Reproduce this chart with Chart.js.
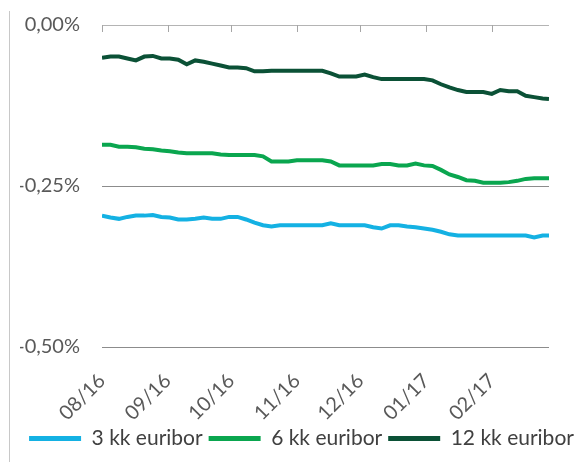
<!DOCTYPE html>
<html>
<head>
<meta charset="utf-8">
<script src="https://cdn.jsdelivr.net/npm/chart.js@4/dist/chart.umd.min.js"></script>
<style>
    body { margin: 0; background: #fff; }
    #box { position: relative; width: 583px; height: 462px; }
    #frame { position: absolute; left: 9px; top: 11px; bottom: 0; border-left: 1px solid #c8c8c8; }
</style>
</head>
<body>
<div id="box">
    <canvas id="myChart" width="583" height="462"></canvas>
    <div id="frame"></div>
</div>
<script>
// days counted from 1.8.2016
const days = [0, 4, 8, 12, 16, 20, 24, 28, 32, 36, 40, 44, 48, 52, 56, 60, 64, 68, 72, 76,
    80, 84, 88, 92, 96, 100, 104, 108, 112, 116, 120, 124, 128, 132, 136, 140, 144, 148, 152, 156,
    160, 164, 168, 172, 176, 180, 184, 188, 192, 196, 200, 204, 208, 211];

const tickDays = [0, 31, 61, 92, 122, 153, 184];
const tickLabels = ['08/16', '09/16', '10/16', '11/16', '12/16', '01/17', '02/17'];
const yTicks = [0, -0.25, -0.5];
const seriesNames = ['3 kk euribor', '6 kk euribor', '12 kk euribor'];

const euribor3 = [-0.296, -0.299, -0.301, -0.298, -0.296, -0.296, -0.295, -0.298, -0.299, -0.302,
    -0.302, -0.301, -0.299, -0.301, -0.301, -0.298, -0.298, -0.302, -0.307, -0.311,
    -0.313, -0.311, -0.311, -0.311, -0.311, -0.311, -0.311, -0.308, -0.311, -0.311,
    -0.311, -0.311, -0.314, -0.316, -0.311, -0.311, -0.313, -0.314, -0.316, -0.318,
    -0.321, -0.325, -0.327, -0.327, -0.327, -0.327, -0.327, -0.327, -0.327, -0.327,
    -0.327, -0.330, -0.327, -0.327];

const euribor6 = [-0.186, -0.186, -0.189, -0.189, -0.190, -0.192, -0.193, -0.195, -0.196, -0.198,
    -0.199, -0.199, -0.199, -0.199, -0.201, -0.202, -0.202, -0.202, -0.202, -0.204,
    -0.212, -0.212, -0.212, -0.210, -0.210, -0.210, -0.210, -0.212, -0.218, -0.218,
    -0.218, -0.218, -0.218, -0.216, -0.216, -0.218, -0.218, -0.215, -0.218, -0.219,
    -0.225, -0.232, -0.236, -0.241, -0.242, -0.245, -0.245, -0.245, -0.244, -0.242,
    -0.239, -0.238, -0.238, -0.238];

const euribor12 = [-0.051, -0.049, -0.049, -0.052, -0.055, -0.049, -0.048, -0.052, -0.052, -0.054,
    -0.061, -0.055, -0.057, -0.060, -0.063, -0.066, -0.066, -0.067, -0.072, -0.072,
    -0.071, -0.071, -0.071, -0.071, -0.071, -0.071, -0.071, -0.075, -0.080, -0.080,
    -0.080, -0.077, -0.081, -0.084, -0.084, -0.084, -0.084, -0.084, -0.084, -0.086,
    -0.092, -0.097, -0.101, -0.104, -0.104, -0.104, -0.107, -0.101, -0.103, -0.103,
    -0.110, -0.112, -0.114, -0.115];

const colors = ['#14b1e3', '#0aa64f', '#0b5136'];

const toPoints = vals => vals.map((v, i) => ({ x: days[i], y: v }));

// small tick marks hanging from the 0 % line, like the excel category axis
const topTicks = {
    id: 'topTicks',
    beforeDatasetsDraw(chart) {
        const c = chart.ctx;
        const x = chart.scales.x;
        const top = chart.scales.y.getPixelForValue(0);
        c.save();
        c.strokeStyle = '#a6a6a6';
        c.lineWidth = 1;
        tickDays.forEach(d => {
            const px = Math.round(x.getPixelForValue(d)) + 0.5;
            c.beginPath();
            c.moveTo(px, top);
            c.lineTo(px, top + 7);
            c.stroke();
        });
        c.restore();
    }
};

const noPad = scale => { scale.paddingTop = 0; scale.paddingBottom = 0; };

document.addEventListener('DOMContentLoaded', () => {
    const ctx = document.getElementById('myChart');
    Chart.defaults.font.family = 'Lato';
    Chart.defaults.color = '#595959';

    new Chart(ctx, {
        type: 'line',
        data: {
            datasets: [euribor3, euribor6, euribor12].map((vals, i) => ({
                label: seriesNames[i],
                data: toPoints(vals),
                borderColor: colors[i],
                backgroundColor: colors[i],
                borderWidth: 4,
                pointRadius: 0,
                tension: 0
            }))
        },
        options: {
            responsive: false,
            animation: false,
            layout: { padding: { left: 20, right: 0, top: 25, bottom: 3 } },
            plugins: {
                tooltip: { enabled: false },
                legend: {
                    position: 'bottom',
                    labels: {
                        boxWidth: 52,
                        boxHeight: 5,
                        padding: 6,
                        color: '#404040',
                        font: { size: 21 },
                        generateLabels: chart => Chart.defaults.plugins.legend.labels.generateLabels(chart)
                            .map(l => ({ ...l, lineWidth: 0, fillStyle: l.strokeStyle }))
                    }
                }
            },
            scales: {
                x: {
                    type: 'linear',
                    min: 0,
                    max: 211,
                    afterBuildTicks: scale => { scale.ticks = tickDays.map(v => ({ value: v })); },
                    afterFit: scale => { scale.height = 75; },
                    ticks: {
                        autoSkip: false,
                        minRotation: 45,
                        maxRotation: 45,
                        padding: 14,
                        font: { size: 20 },
                        callback: (v, i) => tickLabels[i]
                    },
                    grid: { display: false },
                    border: { display: false }
                },
                y: {
                    min: -0.5,
                    max: 0,
                    afterBuildTicks: scale => { scale.ticks = yTicks.map(v => ({ value: v })); },
                    afterFit: scale => { scale.width = 82; noPad(scale); },
                    ticks: {
                        padding: 22,
                        font: { size: 20 },
                        callback: v => v.toFixed(2).replace('.', ',') + '%'
                    },
                    grid: {
                        drawTicks: false,
                        color: c => c.tick && c.tick.value === 0 ? '#b4b4b4' : '#8c8c8c'
                    },
                    border: { display: false }
                },
                // empty right axis, only keeps the plot clear of the right edge
                yRight: {
                    position: 'right',
                    afterFit: scale => { scale.width = 34; noPad(scale); },
                    ticks: { display: false },
                    grid: { display: false },
                    border: { display: false }
                }
            }
        },
        plugins: [topTicks]
    });
});
</script>
</body>
</html>
